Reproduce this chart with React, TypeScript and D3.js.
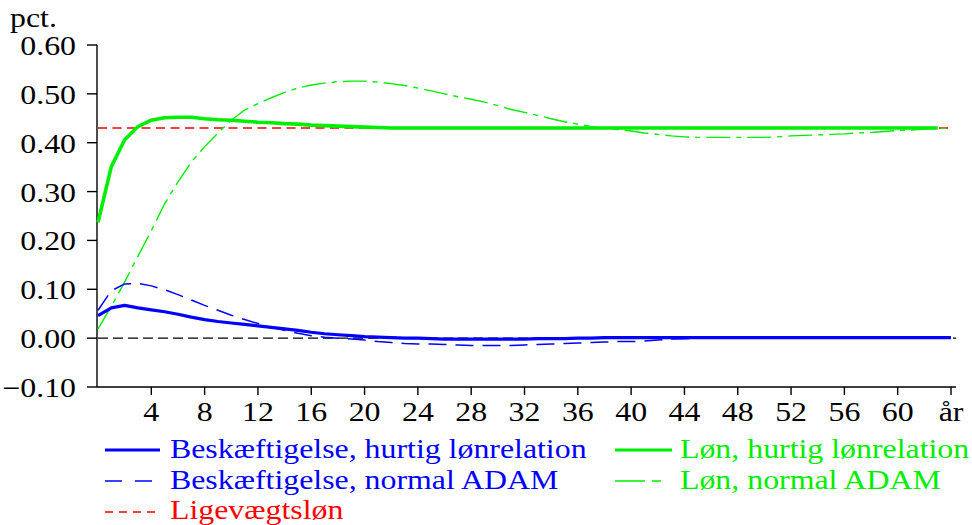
import React from "react";
import * as d3 from "d3";

// Years after the shock (0..64)
const years = d3.range(0, 65);

// Beskæftigelse, hurtig lønrelation (pct.)
const empFast = [
  0.046, 0.062, 0.067, 0.062, 0.058, 0.054, 0.049, 0.043, 0.038, 0.034,
  0.031, 0.028, 0.025, 0.022, 0.019, 0.016, 0.012, 0.009, 0.007, 0.005,
  0.003, 0.002, 0.001, 0.0, 0.0, -0.001, -0.002, -0.002, -0.002, -0.002,
  -0.002, -0.002, -0.002, -0.001, -0.001, -0.001, 0.0, 0.0, 0.001, 0.001,
  0.001, 0.001, 0.001, 0.001, 0.001, 0.001, 0.001, 0.001, 0.001, 0.001,
  0.001, 0.001, 0.001, 0.001, 0.001, 0.001, 0.001, 0.001, 0.001, 0.001,
  0.001, 0.001, 0.001, 0.001, 0.001,
];

// Beskæftigelse, normal ADAM (pct.)
const empNormal = [
  0.057, 0.097, 0.111, 0.112, 0.107, 0.099, 0.089, 0.078, 0.067, 0.057,
  0.047, 0.038, 0.03, 0.022, 0.016, 0.01, 0.005, 0.002, 0.0, -0.002,
  -0.004, -0.007, -0.009, -0.011, -0.012, -0.012, -0.013, -0.014, -0.015, -0.015,
  -0.015, -0.015, -0.014, -0.013, -0.012, -0.011, -0.01, -0.009, -0.008, -0.007,
  -0.007, -0.006, -0.004, -0.002, -0.001, 0.0, 0.0, 0.001, 0.001, 0.001,
  0.002, 0.002, 0.002, 0.002, 0.002, 0.002, 0.002, 0.002, 0.002, 0.002,
  0.002, 0.002, 0.002, 0.002, 0.002,
];

// Løn, hurtig lønrelation (pct.), years 0..63
const wageFast = [
  0.237, 0.351, 0.406, 0.433, 0.446, 0.451, 0.452, 0.452, 0.449, 0.447,
  0.446, 0.444, 0.442, 0.441, 0.439, 0.438, 0.436, 0.435, 0.434, 0.433,
  0.432, 0.431, 0.43, 0.43, 0.43, 0.43, 0.43, 0.43, 0.43, 0.43,
  0.43, 0.43, 0.43, 0.43, 0.43, 0.43, 0.43, 0.43, 0.43, 0.43,
  0.43, 0.43, 0.43, 0.43, 0.43, 0.43, 0.43, 0.43, 0.43, 0.43,
  0.43, 0.43, 0.43, 0.43, 0.43, 0.43, 0.43, 0.43, 0.43, 0.43,
  0.43, 0.43, 0.43, 0.43,
];

// Løn, normal ADAM (pct.)
const wageNormal = [
  0.019, 0.065, 0.115, 0.168, 0.22, 0.275, 0.32, 0.36, 0.392, 0.42,
  0.446, 0.467, 0.48, 0.492, 0.503, 0.512, 0.518, 0.522, 0.525, 0.526,
  0.526, 0.524, 0.521, 0.517, 0.512, 0.506, 0.5, 0.494, 0.489, 0.483,
  0.476, 0.468, 0.462, 0.456, 0.449, 0.443, 0.438, 0.433, 0.43, 0.427,
  0.424, 0.42, 0.417, 0.414, 0.412, 0.411, 0.411, 0.411, 0.411, 0.411,
  0.411, 0.412, 0.414, 0.415, 0.416, 0.417, 0.418, 0.42, 0.421, 0.423,
  0.425, 0.426, 0.428, 0.429, 0.43,
];

// Ligevægtsløn (pct.)
const equilibriumWage = 0.43;

const yTicks = [-0.1, 0.0, 0.1, 0.2, 0.3, 0.4, 0.5, 0.6];
const xTicks = [4, 8, 12, 16, 20, 24, 28, 32, 36, 40, 44, 48, 52, 56, 60, 64];
const xTickLabels = ["4", "8", "12", "16", "20", "24", "28", "32", "36", "40", "44", "48", "52", "56", "60", "år"];

const legendLabels = [
  "Beskæftigelse, hurtig lønrelation",
  "Beskæftigelse, normal ADAM",
  "Ligevægtsløn",
  "Løn, hurtig lønrelation",
  "Løn, normal ADAM",
];

const BLUE = "#0000ff";
const GREEN = "#00ee00";
const RED = "#ff0000";
const FONT = "'Liberation Serif', 'Times New Roman', serif";
const SX = 1.18;
const FS = 27;

export default function App() {
  const W = 972;
  const H = 525;
  const x = d3.scaleLinear().domain([0, 64]).range([98, 951]);
  const y = d3.scaleLinear().domain([-0.1, 0.6]).range([387, 45]);

  const line = d3
    .line<number>()
    .x((_, i) => x(years[i]))
    .y((d) => y(d));

  // Serif text, widened horizontally around its anchor point
  const stretched = (tx: number, ty: number, anchor: string, fill: string, text: string) => (
    <text
      transform={`translate(${tx},${ty}) scale(${SX},1)`}
      textAnchor={anchor}
      fill={fill}
      fontSize={FS}
      fontFamily={FONT}
    >
      {text}
    </text>
  );

  return (
    <svg width={W} height={H} style={{ position: "absolute", left: 0, top: 0, background: "#fff" }}>
      {/* unit label */}
      {stretched(10, 27, "start", "#000", "pct.")}

      {/* y axis */}
      <line x1={97} x2={97} y1={y(0.6)} y2={y(-0.1)} stroke="#000" strokeWidth={1.4} />
      {yTicks.map((t) => (
        <g key={"y" + t}>
          <line x1={87} x2={97} y1={y(t)} y2={y(t)} stroke="#000" strokeWidth={1.4} />
          {stretched(76, y(t) + 10, "end", "#000", d3.format(".2f")(t))}
        </g>
      ))}

      {/* x axis */}
      <line x1={97} x2={956} y1={y(-0.1)} y2={y(-0.1)} stroke="#000" strokeWidth={1.4} />
      {xTicks.map((t, i) => (
        <g key={"x" + t}>
          <line x1={x(t)} x2={x(t)} y1={y(-0.1)} y2={y(-0.1) + 8} stroke="#000" strokeWidth={1.4} />
          {stretched(x(t), 421, "middle", "#000", xTickLabels[i])}
        </g>
      ))}

      {/* zero line */}
      <line x1={x(0)} x2={956} y1={y(0)} y2={y(0)} stroke="#000" strokeWidth={1.3} strokeDasharray="10,5" />

      {/* equilibrium wage */}
      <line
        x1={x(0)}
        x2={x(64)}
        y1={y(equilibriumWage)}
        y2={y(equilibriumWage)}
        stroke={RED}
        strokeWidth={1.6}
        strokeDasharray="9,5.5"
      />

      {/* series */}
      <path d={line(wageNormal) ?? ""} fill="none" stroke={GREEN} strokeWidth={1.4} strokeDasharray="24,6,5,6" />
      <path d={line(empNormal) ?? ""} fill="none" stroke={BLUE} strokeWidth={1.5} strokeDasharray="18,9" />
      <path d={line(wageFast) ?? ""} fill="none" stroke={GREEN} strokeWidth={3.6} strokeLinejoin="round" />
      <path d={line(empFast) ?? ""} fill="none" stroke={BLUE} strokeWidth={3.2} strokeLinejoin="round" />

      {/* legend */}
      <line x1={105} x2={160} y1={450} y2={450} stroke={BLUE} strokeWidth={3} />
      {stretched(170, 458, "start", BLUE, legendLabels[0])}
      <line x1={105} x2={155} y1={481} y2={481} stroke={BLUE} strokeWidth={1.5} strokeDasharray="17,13" />
      {stretched(170, 489, "start", BLUE, legendLabels[1])}
      <line x1={105} x2={157} y1={512} y2={512} stroke={RED} strokeWidth={1.5} strokeDasharray="8,6" />
      {stretched(170, 519, "start", RED, legendLabels[2])}

      <line x1={615} x2={672} y1={450} y2={450} stroke={GREEN} strokeWidth={3} />
      {stretched(680, 458, "start", GREEN, legendLabels[3])}
      <line x1={615} x2={661} y1={481} y2={481} stroke={GREEN} strokeWidth={1.5} strokeDasharray="30,7,9,100" />
      {stretched(680, 489, "start", GREEN, legendLabels[4])}
    </svg>
  );
}
